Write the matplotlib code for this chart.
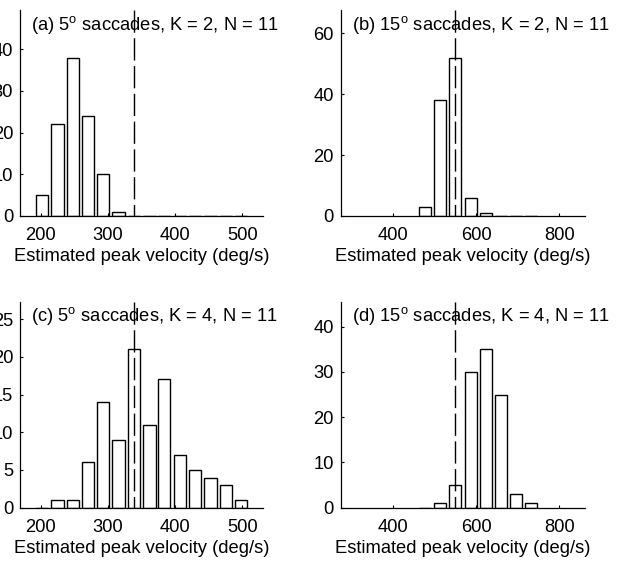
import matplotlib
matplotlib.use("Agg")
import matplotlib.pyplot as plt

plt.rcParams["font.family"] = ["Liberation Sans", "DejaVu Sans"]
plt.rcParams["mathtext.fontset"] = "custom"
plt.rcParams["mathtext.rm"] = "Liberation Sans"
plt.rcParams["font.size"] = 13.2

# bin centres (deg/s) and counts
bins_5 = [202, 225, 248, 270, 293, 316, 339, 362, 384, 407, 430, 453, 476, 498]
bins_15 = [477, 513, 550, 587, 623, 660, 696, 733]

counts_a = [5, 22, 38, 24, 10, 1, 0, 0, 0, 0, 0, 0, 0, 0]
counts_b = [3, 38, 52, 6, 1, 0, 0, 0]
counts_c = [0, 1, 1, 6, 14, 9, 21, 11, 17, 7, 5, 4, 3, 1]
counts_d = [0, 1, 5, 30, 35, 25, 3, 1]

true_5 = 338.5
true_15 = 550

titles = [
    "(a) 5$^{\\rm o}$ saccades, K = 2, N = 11",
    "(b) 15$^{\\rm o}$ saccades, K = 2, N = 11",
    "(c) 5$^{\\rm o}$ saccades, K = 4, N = 11",
    "(d) 15$^{\\rm o}$ saccades, K = 4, N = 11",
]

panels = [
    (bins_5, counts_a, true_5, (169, 531), [200, 300, 400, 500], 49.4, range(0, 41, 10)),
    (bins_15, counts_b, true_15, (275, 862), [400, 600, 800], 67.6, range(0, 61, 20)),
    (bins_5, counts_c, true_5, (169, 531), [200, 300, 400, 500], 27.3, range(0, 26, 5)),
    (bins_15, counts_d, true_15, (275, 862), [400, 600, 800], 45.5, range(0, 41, 10)),
]

positions = [
    [0.0321, 0.615, 0.390, 0.3672],
    [0.5469, 0.615, 0.3921, 0.3672],
    [0.0321, 0.095, 0.390, 0.3672],
    [0.5469, 0.095, 0.3921, 0.3672],
]

fig = plt.figure(figsize=(6.23, 5.61), dpi=100)

for pos, title, (bins, counts, true_v, xlim, xticks, ytop, yticks) in zip(positions, titles, panels):
    ax = fig.add_axes(pos)
    width = 0.8 * (bins[1] - bins[0])
    ax.bar(bins, counts, width=width, color="white", edgecolor="black", linewidth=1.0)
    line, = ax.plot([true_v, true_v], [ytop, 0], color="black", linewidth=1.0, linestyle="--")
    line.set_dashes([16, 4])
    ax.set_xlim(*xlim)
    ax.set_ylim(0, ytop)
    ax.set_xticks(xticks)
    ax.set_yticks(list(yticks))
    for side in ["top", "right"]:
        ax.spines[side].set_visible(False)
    for side in ["left", "bottom"]:
        ax.spines[side].set_linewidth(0.9)
    ax.tick_params(direction="in", length=2.5, width=0.8, labelsize=13.2)
    ax.tick_params(axis="y", pad=5)
    ax.tick_params(axis="x", pad=8)
    ax.set_xlabel("Estimated peak velocity (deg/s)", fontsize=13.2, labelpad=3)
    ax.text(0.045, 0.905, title, transform=ax.transAxes, fontsize=13.2, va="baseline", ha="left")

fig.savefig("out.png", dpi=100)
